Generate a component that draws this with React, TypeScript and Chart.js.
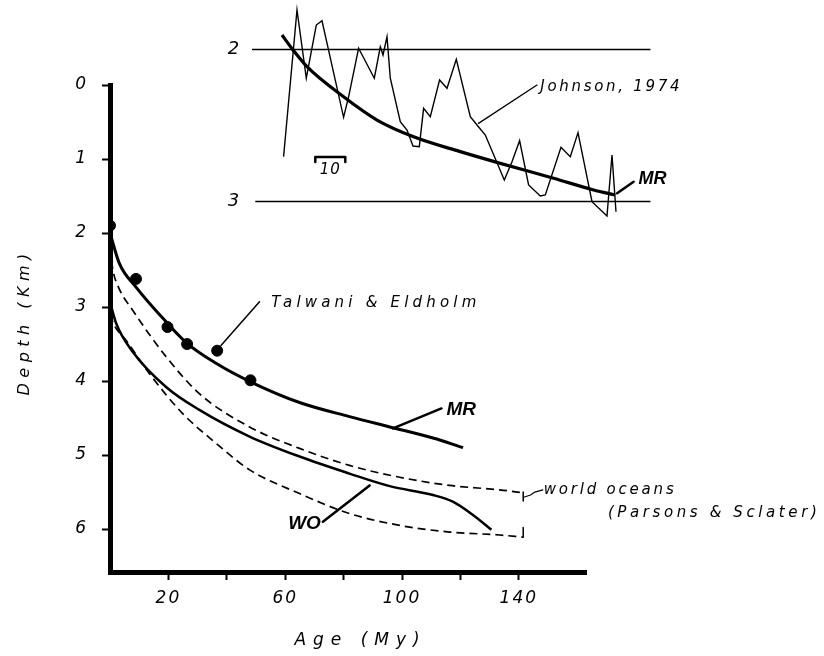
import React, { useEffect, useRef } from 'react';
import { Chart, registerables } from 'chart.js';

Chart.register(...registerables);

// ---------- Main chart data: Age (My) vs Depth (km) ----------
const mrAge = [0, 3.2, 8.9, 19.7, 26.4, 36.3, 48.1, 64.9, 82.0, 95.8, 110.6, 120.9];
const mrDepth = [2.0, 2.41, 2.73, 3.22, 3.49, 3.76, 4.01, 4.29, 4.48, 4.62, 4.77, 4.9];

const woAge = [0, 2.1, 7.7, 19.2, 30.6, 47.8, 64.9, 82.0, 95.8, 110.6, 117.4, 124.3, 130.6];
const woDepth = [2.93, 3.22, 3.6, 4.08, 4.39, 4.75, 5.02, 5.25, 5.42, 5.54, 5.63, 5.81, 6.01];

const psShallowAge = [0, 1, 3, 7.7, 19.2, 30.6, 47.8, 64.9, 82.0, 99.2, 116.3, 133.4, 141.5];
const psShallowDepth = [2.2, 2.5, 2.74, 3.04, 3.67, 4.17, 4.62, 4.91, 5.14, 5.3, 5.41, 5.47, 5.51];

const psDeepAge = [0, 1.5, 5.5, 13.5, 24.9, 36.3, 47.8, 64.9, 82.0, 99.2, 116.3, 133.4, 141.5];
const psDeepDepth = [3.1, 3.25, 3.45, 3.9, 4.44, 4.84, 5.2, 5.52, 5.79, 5.95, 6.04, 6.08, 6.11];

const teAge = [0, 8.9, 19.7, 26.4, 36.7, 48.1];
const teDepth = [1.9, 2.62, 3.27, 3.5, 3.59, 3.99];

const xTicks = [20, 40, 60, 80, 100, 120, 140];
const xLabeled = [20, 60, 100, 140];
const yTicks = [0, 1, 2, 3, 4, 5, 6];

// ---------- Inset data: Johnson, 1974 profile and MR curve ----------
const johnsonAge = [0.53, 5.0, 8.1, 11.43, 13.33, 20.53, 22.2, 25.53, 30.77, 32.77, 33.67, 35.0, 36.1, 39.43,
  41.67, 43.67, 45.77, 47.2, 49.43, 52.53, 55.0, 58.1, 62.77, 65.0, 67.77, 74.1, 76.67, 79.2, 82.2, 86.1,
  87.77, 93.0, 96.1, 98.67, 103.33, 108.33, 110.0, 111.33];
const johnsonDepth = [2.705, 1.74, 2.189, 1.839, 1.811, 2.446, 2.311, 1.992, 2.189, 1.982, 2.036, 1.916, 2.189, 2.475,
  2.53, 2.635, 2.639, 2.387, 2.442, 2.201, 2.255, 2.064, 2.442, 2.497, 2.563, 2.859, 2.738, 2.6, 2.891, 2.964,
  2.957, 2.643, 2.705, 2.547, 3.001, 3.095, 2.694, 3.067];

const insetMrAge = [0, 3.67, 8.33, 20.53, 31.67, 43.87, 59.43, 72.77, 90.53, 103.87, 111.1];
const insetMrDepth = [1.905, 2.003, 2.113, 2.311, 2.464, 2.574, 2.672, 2.749, 2.847, 2.924, 2.957];

const insetRefDepths = [2, 3];
const insetRefStart = [-10, -8.9];
const insetRefEnd = 122.8;

const FONT = "'DejaVu Sans', sans-serif";
const BOLD = "'Liberation Sans', Arial, sans-serif";

type Note =
  | { kind: 'text'; x: number; y: number; text: string; font: string; align?: CanvasTextAlign; spacing?: number; rotate?: number }
  | { kind: 'line'; pts: [number, number][]; width: number };

const pairs = (xs: number[], ys: number[]) => xs.map((x, i) => ({ x, y: ys[i] }));

function makeNotes(items: Note[]) {
  return {
    id: 'notes',
    afterDatasetsDraw(chart: any) {
      const { ctx } = chart;
      const xs = chart.scales.x;
      const ys = chart.scales.y;
      ctx.save();
      ctx.fillStyle = '#000';
      ctx.strokeStyle = '#000';
      for (const n of items) {
        if (n.kind === 'line') {
          ctx.beginPath();
          ctx.lineWidth = n.width;
          ctx.lineCap = 'round';
          ctx.lineJoin = 'round';
          n.pts.forEach(([a, b], i) => {
            const px = xs.getPixelForValue(a);
            const py = ys.getPixelForValue(b);
            if (i === 0) ctx.moveTo(px, py);
            else ctx.lineTo(px, py);
          });
          ctx.stroke();
        } else {
          const px = xs.getPixelForValue(n.x);
          const py = ys.getPixelForValue(n.y);
          ctx.save();
          ctx.font = n.font;
          (ctx as any).letterSpacing = (n.spacing || 0) + 'px';
          ctx.textAlign = n.align || 'left';
          ctx.textBaseline = 'middle';
          ctx.translate(px, py);
          if (n.rotate) ctx.rotate(n.rotate);
          ctx.fillText(n.text, 0, 0);
          ctx.restore();
        }
      }
      ctx.restore();
    },
  };
}

const spacingPlugin = {
  id: 'tickSpacing',
  beforeDraw(chart: any) {
    (chart.ctx as any).letterSpacing = '2px';
  },
};

const mainNotes: Note[] = [
  { kind: 'line', pts: [[38, 3.52], [51.2, 2.93]], width: 1.5 },
  { kind: 'text', x: 55.2, y: 2.95, text: 'Talwani & Eldholm', font: `italic 15px ${FONT}`, spacing: 4.2 },
  { kind: 'line', pts: [[96.9, 4.64], [113.5, 4.37]], width: 2.5 },
  { kind: 'text', x: 115.2, y: 4.39, text: 'MR', font: `italic bold 19px ${BOLD}` },
  { kind: 'line', pts: [[72.9, 5.9], [88.9, 5.41]], width: 2.5 },
  { kind: 'text', x: 72.2, y: 5.93, text: 'WO', font: `italic bold 19px ${BOLD}`, align: 'right' },
  { kind: 'line', pts: [[141.5, 5.5], [141.5, 5.62]], width: 1.5 },
  { kind: 'line', pts: [[141.5, 5.98], [141.5, 6.11]], width: 1.5 },
  { kind: 'line', pts: [[141.7, 5.57], [144, 5.54], [145.5, 5.5], [148.2, 5.47]], width: 1.2 },
  { kind: 'text', x: 148.5, y: 5.47, text: 'world oceans', font: `italic 15px ${FONT}`, spacing: 2.8 },
  { kind: 'text', x: 170.5, y: 5.78, text: '(Parsons & Sclater)', font: `italic 15px ${FONT}`, spacing: 3.6 },
  { kind: 'text', x: -29.2, y: 3.2, text: 'Depth (Km)', font: `italic 16px ${FONT}`, spacing: 5.5, align: 'center', rotate: -Math.PI / 2 },
  { kind: 'text', x: 85.8, y: 7.51, text: 'Age (My)', font: `italic 17px ${FONT}`, spacing: 7, align: 'center' },
];

const insetNotes: Note[] = [
  { kind: 'text', x: -16.2, y: 2.0, text: '2', font: `italic 18px ${FONT}`, align: 'center' },
  { kind: 'text', x: -16.2, y: 3.0, text: '3', font: `italic 18px ${FONT}`, align: 'center' },
  { kind: 'line', pts: [[11.1, 2.74], [11.1, 2.707], [21.1, 2.707], [21.1, 2.74]], width: 2.5 },
  { kind: 'text', x: 16.1, y: 2.795, text: '10', font: `italic 15px ${FONT}`, align: 'center', spacing: 1 },
  { kind: 'line', pts: [[65.5, 2.486], [85, 2.234]], width: 1.3 },
  { kind: 'text', x: 86.1, y: 2.245, text: 'Johnson, 1974', font: `italic 15px ${FONT}`, spacing: 2.7 },
  { kind: 'line', pts: [[111.7, 2.946], [117.2, 2.87]], width: 2.5 },
  { kind: 'text', x: 118.8, y: 2.85, text: 'MR', font: `italic bold 18px ${BOLD}` },
];

export default function App() {
  const mainRef = useRef<HTMLCanvasElement>(null);
  const insetRef = useRef<HTMLCanvasElement>(null);

  useEffect(() => {
    const tickFont = { family: FONT, size: 17, style: 'italic' as const };
    const main = new Chart(mainRef.current as HTMLCanvasElement, {
      type: 'line',
      data: {
        datasets: [
          { data: pairs(mrAge, mrDepth), borderColor: '#000', borderWidth: 3, pointRadius: 0, cubicInterpolationMode: 'monotone' },
          { data: pairs(woAge, woDepth), borderColor: '#000', borderWidth: 2.5, pointRadius: 0, cubicInterpolationMode: 'monotone' },
          { data: pairs(psShallowAge, psShallowDepth), borderColor: '#000', borderWidth: 1.7, borderDash: [8, 5], pointRadius: 0, cubicInterpolationMode: 'monotone' },
          { data: pairs(psDeepAge, psDeepDepth), borderColor: '#000', borderWidth: 1.7, borderDash: [8, 5], pointRadius: 0, cubicInterpolationMode: 'monotone' },
          { data: pairs(teAge, teDepth), showLine: false, pointRadius: 5.5, pointBackgroundColor: '#000', pointBorderColor: '#000', borderColor: '#000' },
        ] as any,
      },
      options: {
        responsive: false,
        animation: false,
        events: [],
        layout: { padding: { top: 85, right: 238, left: 0, bottom: 0 } },
        plugins: { legend: { display: false }, tooltip: { enabled: false } },
        scales: {
          x: {
            type: 'linear',
            min: 0,
            max: 163,
            afterBuildTicks: (s: any) => { s.ticks = xTicks.map((v) => ({ value: v })); },
            afterFit: (s: any) => { s.height = 84; },
            ticks: {
              color: '#000',
              font: tickFont,
              padding: 8,
              maxRotation: 0,
              autoSkip: false,
              callback: (v: any) => (xLabeled.includes(Number(v)) ? String(v) : ''),
            },
            grid: { drawOnChartArea: false, drawTicks: true, tickLength: 8, tickWidth: 2, tickColor: '#000', color: '#000' },
            border: { display: true, color: '#000', width: 5 },
          },
          y: {
            type: 'linear',
            reverse: true,
            min: 0,
            max: 6.58,
            afterBuildTicks: (s: any) => { s.ticks = yTicks.map((v) => ({ value: v })); },
            afterFit: (s: any) => { s.width = 110; },
            ticks: { color: '#000', font: tickFont, padding: 14, autoSkip: false, callback: (v: any) => String(v) },
            grid: { drawOnChartArea: false, drawTicks: true, tickLength: 8, tickWidth: 2, tickColor: '#000', color: '#000' },
            border: { display: true, color: '#000', width: 5 },
          },
        },
      } as any,
      plugins: [spacingPlugin, makeNotes(mainNotes)],
    });

    const inset = new Chart(insetRef.current as HTMLCanvasElement, {
      type: 'line',
      data: {
        datasets: [
          ...insetRefDepths.map((d, i) => ({
            data: [{ x: insetRefStart[i], y: d }, { x: insetRefEnd, y: d }],
            borderColor: '#000', borderWidth: 1.4, pointRadius: 0,
          })),
          { data: pairs(johnsonAge, johnsonDepth), borderColor: '#000', borderWidth: 1.4, pointRadius: 0, tension: 0, borderJoinStyle: 'miter' },
          { data: pairs(insetMrAge, insetMrDepth), borderColor: '#000', borderWidth: 3.2, pointRadius: 0, cubicInterpolationMode: 'monotone' },
        ] as any,
      },
      options: {
        responsive: false,
        animation: false,
        events: [],
        layout: { padding: { left: 52, right: 49, top: 3.9, bottom: 15.7 } },
        plugins: { legend: { display: false }, tooltip: { enabled: false } },
        scales: {
          x: { type: 'linear', min: -10, max: 123, display: false },
          y: { type: 'linear', reverse: true, min: 1.7, max: 3.15, display: false },
        },
      } as any,
      plugins: [makeNotes(insetNotes)],
    });

    return () => {
      main.destroy();
      inset.destroy();
    };
  }, []);

  return (
    <div style={{ position: 'absolute', left: 0, top: 0, width: 824, height: 656, background: '#fff' }}>
      <canvas ref={mainRef} width={824} height={656} style={{ position: 'absolute', left: 0, top: 0 }} />
      <canvas ref={insetRef} width={500} height={240} style={{ position: 'absolute', left: 200, top: 0 }} />
    </div>
  );
}
